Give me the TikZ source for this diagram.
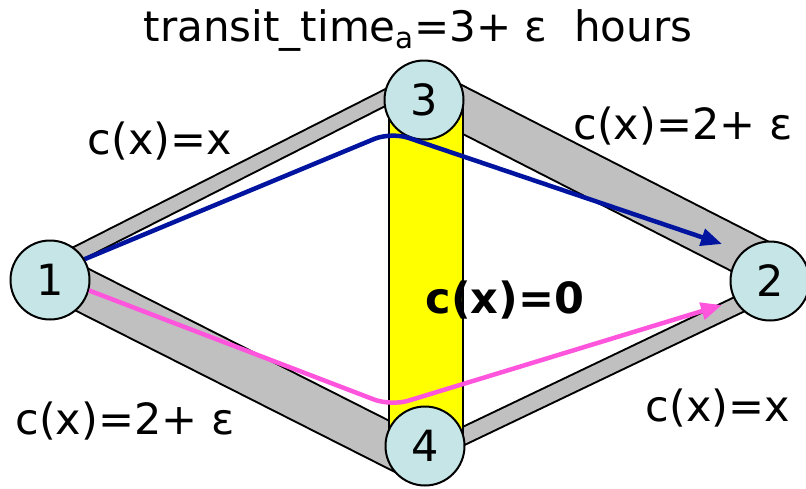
\documentclass[tikz,border=0pt]{standalone}
\usepackage{fontspec}
\setmainfont{DejaVu Sans}
\usetikzlibrary{arrows.meta}
\definecolor{nodefill}{RGB}{197,229,231}
\definecolor{bandgray}{RGB}{192,192,192}
\definecolor{pathblue}{RGB}{0,20,160}
\definecolor{pathpink}{RGB}{255,85,220}
\definecolor{baryellow}{RGB}{255,255,0}
\begin{document}
\begin{tikzpicture}[x=1pt,y=-1pt,
  vertex/.style={circle,draw=black,line width=2pt,fill=nodefill,minimum size=79pt,inner sep=0pt,font=\fontsize{43}{43}\selectfont},
  lbl/.style={font=\fontsize{43}{45}\selectfont,inner sep=0pt},
  flow/.style={line width=4.5pt,rounded corners=18pt,-{Triangle[length=21pt,width=17pt]}}]
\useasboundingbox (0,0) rectangle (806,488);
\fill[white] (0,0) rectangle (806,488);
\coordinate (c1) at (50,280);
\coordinate (c2) at (770,281);
\coordinate (c3) at (424,100);
\coordinate (c4) at (425,446);
% band end points
\coordinate (a13) at (55,265);
\coordinate (b13) at (420,80);
\coordinate (a32) at (430,93);
\coordinate (b32) at (765,264);
\coordinate (a14) at (55,276);
\coordinate (b14) at (415,458);
\coordinate (a42) at (430,452);
\coordinate (b42) at (765,292);
% bands
\foreach \a/\b/\w in {a13/b13/13, a32/b32/41, a14/b14/41, a42/b42/15}{
  \draw[line width=\w pt+4pt,black] (\a)--(\b);
  \draw[line width=\w pt,bandgray] (\a)--(\b);
}
% yellow band
\node[draw=black,line width=2pt,fill=baryellow,minimum width=74pt,minimum height=346pt,inner sep=0pt] (ybar) at (426,273) {};
% nodes
\node[vertex] (n1) at (c1) {1};
\node[vertex] (n2) at (c2) {2};
\node[vertex] (n3) at (c3) {3};
\node[vertex] (n4) at (c4) {4};
% flows
\coordinate (b1) at (391,132);
\coordinate (p1) at (391,406);
\coordinate (bend) at (722,244);
\coordinate (pend) at (722,305);
\draw[flow,pathblue] (n1.31) -- (b1) -- (bend);
\draw[flow,pathpink] (n1.-15) -- (p1) -- (pend);
% labels
\node[lbl,font=\fontsize{42}{45}\selectfont] (t) at (418,30) {transit\_time\textsubscript{a}=3+ ε\ \ hours};
\node[lbl] (l13) at (160,141) {c(x)=x};
\node[lbl] (l32) at (683,126) {c(x)=2+ ε};
\node[lbl,font=\fontsize{43}{45}\selectfont\bfseries] (l34) at (505,300) {c(x)=0};
\node[lbl] (l14) at (125,421) {c(x)=2+ ε};
\node[lbl] (l42) at (718,408) {c(x)=x};
\end{tikzpicture}
\end{document}
